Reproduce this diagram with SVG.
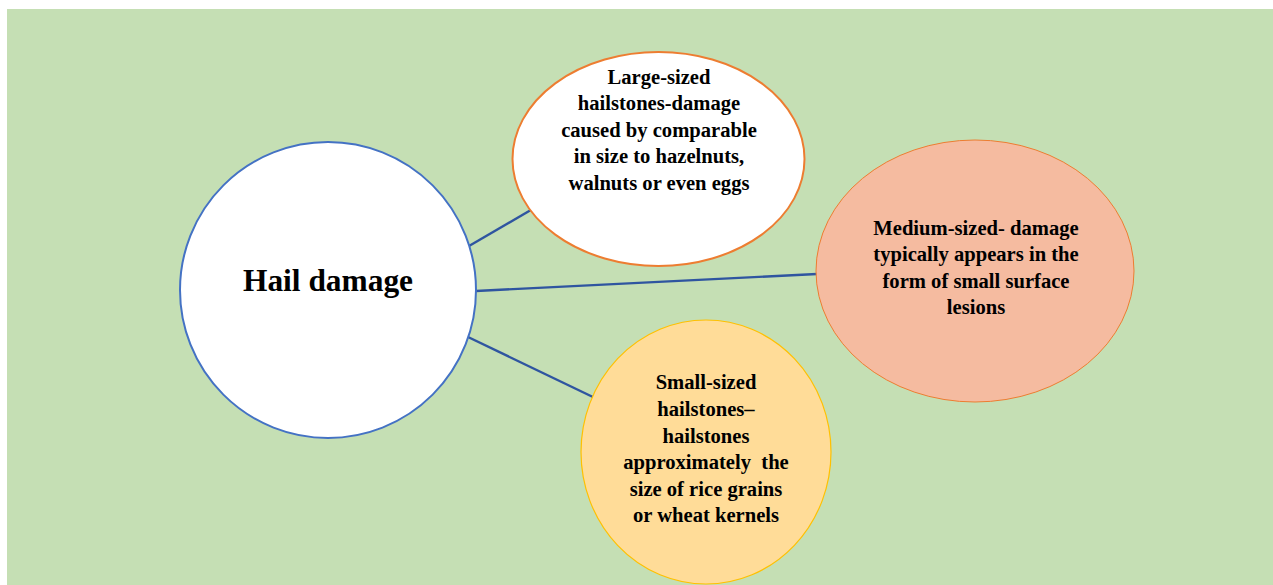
<svg xmlns="http://www.w3.org/2000/svg" width="1273" height="585" viewBox="0 0 1273 585">
<style>
.t{font-family:"Liberation Serif","Times New Roman",serif;font-weight:bold;font-size:20.6px;fill:#000;text-anchor:middle}
.h{font-size:31.4px}
.c{stroke:#2F55A0;stroke-width:2.4;fill:none}
</style>
<rect x="0" y="0" width="1273" height="585" fill="#fff"/>
<rect x="7" y="9" width="1266" height="576" fill="#C5DFB4"/>
<g id="connectors">
<line class="c" x1="469" y1="246" x2="536" y2="207"/>
<line class="c" x1="476" y1="291" x2="817" y2="274"/>
<line class="c" x1="468" y1="337" x2="595" y2="398"/>
</g>
<g id="hail">
<circle cx="328" cy="290" r="148" fill="#fff" stroke="#4472C4" stroke-width="2"/>
<text class="t h" x="328" y="291">Hail damage</text>
</g>
<g id="large">
<ellipse cx="658.5" cy="159" rx="146" ry="107" fill="#fff" stroke="#ED7D31" stroke-width="2"/>
<text class="t" x="659" y="84">Large-sized</text>
<text class="t" x="659" y="110">hailstones-damage</text>
<text class="t" x="659" y="137">caused by comparable</text>
<text class="t" x="659" y="163">in size to hazelnuts,</text>
<text class="t" x="659" y="190">walnuts or even eggs</text>
</g>
<g id="medium">
<ellipse cx="975" cy="271" rx="159" ry="131" fill="#F5BBA0" stroke="#ED7D31" stroke-width="1"/>
<text class="t" x="976" y="235">Medium-sized- damage</text>
<text class="t" x="976" y="261">typically appears in the</text>
<text class="t" x="976" y="288">form of small surface</text>
<text class="t" x="976" y="314">lesions</text>
</g>
<g id="small">
<ellipse cx="706" cy="452" rx="125" ry="132" fill="#FFDC98" stroke="#FFC000" stroke-width="1.2"/>
<text class="t" x="706" y="389">Small-sized</text>
<text class="t" x="706" y="416">hailstones–</text>
<text class="t" x="706" y="443">hailstones</text>
<text class="t" x="706" y="469" xml:space="preserve">approximately  the</text>
<text class="t" x="706" y="496">size of rice grains</text>
<text class="t" x="706" y="522">or wheat kernels</text>
</g>
</svg>
